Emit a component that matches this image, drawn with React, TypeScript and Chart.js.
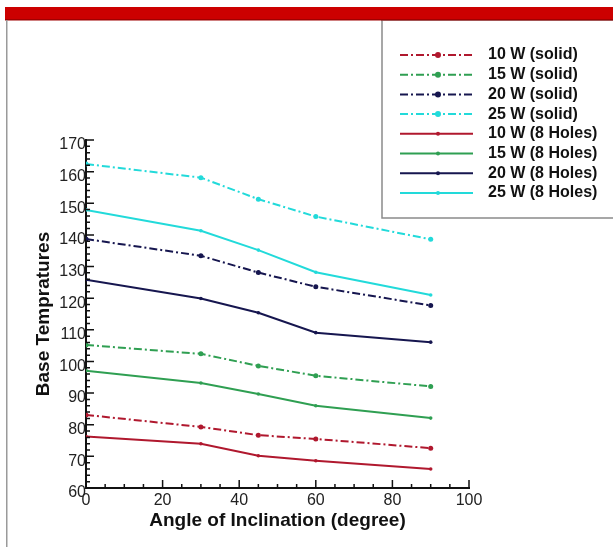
import React, { useEffect, useRef } from "react";
import { Chart, registerables } from "chart.js";

Chart.register(...registerables);

const angles = [0, 30, 45, 60, 90];
const solid10 = [83.1, 79.3, 76.7, 75.5, 72.6];
const solid15 = [105.2, 102.4, 98.6, 95.5, 92.1];
const solid20 = [138.7, 133.4, 128.1, 123.6, 117.7];
const solid25 = [162.4, 158.1, 151.3, 145.8, 138.6];
const holes10 = [76.3, 74.0, 70.2, 68.6, 66.0];
const holes15 = [97.1, 93.2, 89.7, 86.0, 82.1];
const holes20 = [125.8, 119.9, 115.4, 109.1, 106.1];
const holes25 = [147.9, 141.3, 135.2, 128.2, 121.0];

const seriesLabels = [
  "10 W (solid)",
  "15 W (solid)",
  "20 W (solid)",
  "25 W (solid)",
  "10 W (8 Holes)",
  "15 W (8 Holes)",
  "20 W (8 Holes)",
  "25 W (8 Holes)",
];
const seriesValues = [solid10, solid15, solid20, solid25, holes10, holes15, holes20, holes25];
const powerColors = ["#b0182e", "#2f9f52", "#16164f", "#22dada"];

const xTitle = "Angle of Inclination (degree)";
const yTitle = "Base Tempratures";

const DASH_DOT = [8, 3, 2, 3];

const backdropPlugin = {
  id: "backdrop",
  beforeDraw(chart: any) {
    const ctx = chart.ctx;
    ctx.save();
    ctx.fillStyle = "#ffffff";
    ctx.fillRect(0, 0, chart.width, chart.height);
    ctx.fillStyle = "#cc0000";
    ctx.fillRect(5, 7, chart.width - 5, 13);
    ctx.fillStyle = "#a00000";
    ctx.fillRect(5, 19, chart.width - 5, 1.5);
    ctx.fillStyle = "#9a9a9a";
    ctx.fillRect(6, 20, 1.5, chart.height - 20);
    ctx.restore();
  },
};

const ticksPlugin = {
  id: "innerTicks",
  afterDraw(chart: any) {
    const ctx = chart.ctx;
    const xs = chart.scales.x;
    const ys = chart.scales.y;
    const area = chart.chartArea;
    ctx.save();
    ctx.strokeStyle = "#111";
    ctx.lineWidth = 1.5;
    ctx.beginPath();
    for (let v = 60; v <= 170; v += 2) {
      const py = ys.getPixelForValue(v);
      const len = v % 10 === 0 ? 8 : 4;
      ctx.moveTo(area.left, py);
      ctx.lineTo(area.left + len, py);
    }
    for (let v = 0; v <= 100; v += 5) {
      const px = xs.getPixelForValue(v);
      const len = v % 20 === 0 ? 8 : 4;
      ctx.moveTo(px, area.bottom);
      ctx.lineTo(px, area.bottom - len);
    }
    ctx.stroke();
    ctx.restore();
  },
};

const legendPlugin = {
  id: "boxLegend",
  afterDraw(chart: any) {
    const ctx = chart.ctx;
    ctx.save();
    const bx = 382;
    const by = 20;
    const bw = 260;
    const bh = 198;
    ctx.fillStyle = "#ffffff";
    ctx.fillRect(bx, by, bw, bh);
    ctx.strokeStyle = "#8a8a8a";
    ctx.lineWidth = 1.5;
    ctx.strokeRect(bx, by, bw, bh);
    ctx.fillStyle = "#cc0000";
    ctx.fillRect(bx - 1, 7, bw + 2, 13);
    ctx.fillStyle = "#a00000";
    ctx.fillRect(bx - 1, 19, bw + 2, 1.5);

    chart.data.datasets.forEach((ds: any, i: number) => {
      const cy = 55 + i * 19.7;
      ctx.strokeStyle = ds.borderColor;
      ctx.lineWidth = 2;
      ctx.setLineDash(ds.borderDash || []);
      ctx.beginPath();
      ctx.moveTo(400, cy);
      ctx.lineTo(473, cy);
      ctx.stroke();
      ctx.setLineDash([]);
      ctx.fillStyle = ds.borderColor;
      ctx.beginPath();
      ctx.arc(438, cy, ds.borderDash && ds.borderDash.length ? 3 : 2, 0, Math.PI * 2);
      ctx.fill();
      ctx.fillStyle = "#111";
      ctx.font = "bold 16px 'Liberation Sans', Arial, sans-serif";
      ctx.textBaseline = "middle";
      ctx.textAlign = "left";
      ctx.fillText(ds.label, 488, cy);
    });
    ctx.restore();
  },
};

export default function App() {
  const ref = useRef<HTMLCanvasElement | null>(null);

  useEffect(() => {
    document.body.style.margin = "0";
    const datasets = seriesValues.map((vals, i) => {
      const isSolid = i < 4;
      const color = powerColors[i % 4];
      return {
        label: seriesLabels[i],
        data: angles.map((a, j) => ({ x: a, y: vals[j] })),
        borderColor: color,
        backgroundColor: color,
        borderWidth: 2,
        borderDash: isSolid ? DASH_DOT : [],
        pointRadius: isSolid ? 2.5 : 1.8,
        pointBorderWidth: 0,
        pointBackgroundColor: color,
        fill: false,
        tension: 0,
      };
    });

    const chart = new Chart(ref.current as HTMLCanvasElement, {
      type: "line",
      data: { datasets },
      options: {
        animation: false,
        responsive: false,
        layout: { padding: { left: 0, right: 144, top: 140, bottom: 0 } },
        plugins: {
          legend: { display: false },
          tooltip: { enabled: false },
          title: { display: false },
        },
        scales: {
          x: {
            type: "linear",
            min: 0,
            max: 100,
            afterFit: (s: any) => {
              s.height = 59;
            },
            ticks: {
              stepSize: 20,
              padding: 3,
              color: "#222",
              font: { family: "'Liberation Sans', Arial, sans-serif", size: 16 },
            },
            grid: { display: true, drawOnChartArea: false, drawTicks: false },
            border: { display: true, color: "#111", width: 2 },
            title: {
              display: true,
              text: xTitle,
              color: "#111",
              font: { family: "'Liberation Sans', Arial, sans-serif", size: 19, weight: "bold" },
              padding: { top: 0, bottom: 15 },
            },
          },
          y: {
            type: "linear",
            min: 60,
            max: 170,
            afterFit: (s: any) => {
              s.width = 86;
            },
            ticks: {
              stepSize: 10,
              padding: 0,
              labelOffset: 5,
              color: "#222",
              font: { family: "'Liberation Sans', Arial, sans-serif", size: 16 },
            },
            grid: { display: true, drawOnChartArea: false, drawTicks: false },
            border: { display: true, color: "#111", width: 2 },
            title: {
              display: true,
              text: yTitle,
              color: "#111",
              font: { family: "'Liberation Sans', Arial, sans-serif", size: 19, weight: "bold" },
              padding: { top: 32, bottom: 0 },
            },
          },
        },
      },
      plugins: [backdropPlugin, ticksPlugin, legendPlugin],
    } as any);

    return () => chart.destroy();
  }, []);

  return (
    <div style={{ position: "absolute", left: 0, top: 0, width: 613, height: 547 }}>
      <canvas ref={ref} width={613} height={547} />
    </div>
  );
}
